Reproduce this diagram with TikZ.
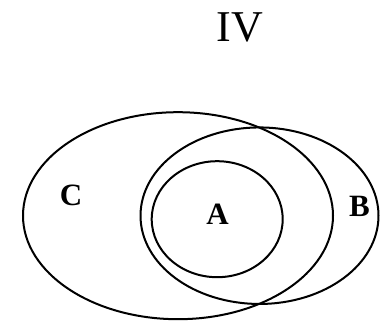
\documentclass[tikz,border=0pt]{standalone}
\usepackage{fontspec}
\setmainfont{Liberation Serif}
\usetikzlibrary{shapes.geometric}

\tikzset{
  setline/.style={draw,ellipse,line width=2pt,inner sep=0pt},
  setlabel/.style={font=\fontsize{31}{31}\selectfont\bfseries,inner sep=0pt}
}

\begin{document}
\begin{tikzpicture}[x=1pt,y=-1pt]
\useasboundingbox (0,0) rectangle (380,324);
\node[font=\fontsize{44}{44}\selectfont,inner sep=0pt] (title) at (240,27) {IV};
% the three sets
\node[setline,minimum width=310pt,minimum height=207pt] (C) at (178,215.7) {};
\node[setline,minimum width=238pt,minimum height=176.5pt] (B) at (259.5,215.7) {};
\node[setline,minimum width=131pt,minimum height=116pt] (A) at (217.2,219.2) {};
% labels
\node[setlabel] (lC) at (71,195.5) {C};
\node[setlabel] (lA) at (217.5,214.5) {A};
\node[setlabel] (lB) at (359.5,206.5) {B};
\end{tikzpicture}
\end{document}
